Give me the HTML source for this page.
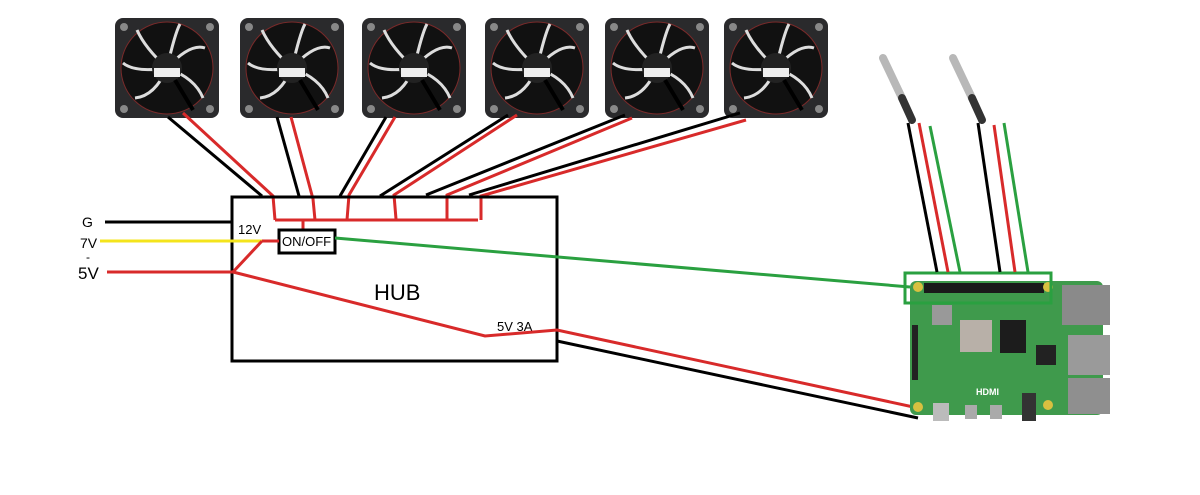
<!DOCTYPE html>
<html><head><meta charset="utf-8"><style>
html,body{margin:0;padding:0;background:#fff;}
svg{display:block;}
text{font-family:"Liberation Sans",sans-serif;}
</style></head><body>
<svg width="1200" height="495" viewBox="0 0 1200 495" xmlns="http://www.w3.org/2000/svg">
<defs>
<g id="fan">
  <rect x="0" y="0" width="104" height="100" rx="8" fill="#2a2a2c"/>
  <circle cx="9" cy="9" r="4" fill="#888"/><circle cx="95" cy="9" r="4" fill="#888"/>
  <circle cx="9" cy="91" r="4" fill="#888"/><circle cx="95" cy="91" r="4" fill="#888"/>
  <circle cx="52" cy="50" r="46" fill="#111" stroke="#7a2a2a" stroke-width="1"/>
  <g stroke="#ddd" stroke-width="3" fill="none">
    <path d="M52 50 Q30 30 22 12"/><path d="M52 50 Q75 25 90 30"/>
    <path d="M52 50 Q80 60 88 80"/><path d="M52 50 Q40 78 20 80"/>
    <path d="M52 50 Q20 55 8 45"/><path d="M52 50 Q60 15 65 6"/>
  </g>
  <circle cx="52" cy="50" r="15" fill="#222"/>
  <rect x="39" y="50" width="26" height="9" fill="#eee"/>
  <path d="M60 62 L78 92" stroke="#000" stroke-width="4"/>
</g>
</defs>

<use href="#fan" x="115" y="18"/>
<use href="#fan" x="240" y="18"/>
<use href="#fan" x="362" y="18"/>
<use href="#fan" x="485" y="18"/>
<use href="#fan" x="605" y="18"/>
<use href="#fan" x="724" y="18"/>

<!-- fan wires -->
<g stroke-width="3" fill="none">
<path d="M168 117 L262 196" stroke="#000"/>
<path d="M183 113 L273 196 L275 220" stroke="#d82a2a"/>
<path d="M277 117 L299 196" stroke="#000"/>
<path d="M291 117 L313 199 L315 220" stroke="#d82a2a"/>
<path d="M386 117 L340 196" stroke="#000"/>
<path d="M395 117 L349 195 L347 220" stroke="#d82a2a"/>
<path d="M508 115 L380 196" stroke="#000"/>
<path d="M517 115 L394 195 L396 219" stroke="#d82a2a"/>
<path d="M625 115 L426 195" stroke="#000"/>
<path d="M632 118 L447 195 L447 220" stroke="#d82a2a"/>
<path d="M740 113 L469 195" stroke="#000"/>
<path d="M746 120 L481 196 L481 220" stroke="#d82a2a"/>
<path d="M275 220 L478 220" stroke="#d82a2a"/>
<path d="M303 220 L303 230" stroke="#d82a2a"/>
</g>

<!-- hub -->
<rect x="232" y="197" width="325" height="164" fill="none" stroke="#000" stroke-width="3"/>
<text x="238" y="234" font-size="13">12V</text>
<rect x="279" y="230" width="56" height="23" fill="#fff" stroke="#000" stroke-width="3"/>
<text x="282" y="246" font-size="13">ON/OFF</text>
<text x="374" y="300" font-size="22">HUB</text>
<text x="497" y="331" font-size="13">5V 3A</text>

<!-- left inputs -->
<text x="82" y="227" font-size="14">G</text>
<text x="80" y="248" font-size="14">7V</text>
<text x="86" y="261" font-size="12">-</text>
<text x="78" y="279" font-size="17">5V</text>
<g stroke-width="3" fill="none">
<path d="M105 222 L232 222" stroke="#000"/>
<path d="M100 241 L262 241" stroke="#f4e41c"/>
<path d="M262 241 L279 241" stroke="#d82a2a"/>
<path d="M107 272 L233 272" stroke="#d82a2a"/>
<path d="M233 272 L262 241" stroke="#d82a2a"/>
<path d="M233 272 L485 336 L557 330 L918 408" stroke="#d82a2a"/>
<path d="M557 341 L918 418" stroke="#000"/>
<path d="M335 238 L910 287" stroke="#2aa040"/>
</g>

<!-- Pi board -->
<rect x="910" y="281" width="193" height="134" rx="6" fill="#3f9a4c"/>
<rect x="1062" y="285" width="48" height="40" fill="#8a8a8a"/>
<rect x="1068" y="335" width="42" height="40" fill="#9a9a9a"/>
<rect x="1068" y="378" width="42" height="36" fill="#8f8f8f"/>
<rect x="924" y="283" width="120" height="10" fill="#1a1a1a"/>
<circle cx="918" cy="287" r="5" fill="#d8c040"/><circle cx="1048" cy="287" r="5" fill="#d8c040"/>
<circle cx="918" cy="407" r="5" fill="#d8c040"/><circle cx="1048" cy="405" r="5" fill="#d8c040"/>
<rect x="960" y="320" width="32" height="32" fill="#b8b0a8"/>
<rect x="1000" y="320" width="26" height="33" fill="#1c1c1c"/>
<rect x="1036" y="345" width="20" height="20" fill="#222"/>
<rect x="932" y="305" width="20" height="20" fill="#999"/>
<rect x="912" y="325" width="6" height="55" fill="#222"/>
<rect x="933" y="403" width="16" height="18" fill="#bbb"/>
<rect x="965" y="405" width="12" height="14" fill="#aaa"/>
<rect x="990" y="405" width="12" height="14" fill="#aaa"/>
<rect x="1022" y="393" width="14" height="28" fill="#333"/>
<text x="976" y="395" font-size="9" fill="#fff" font-weight="bold">HDMI</text>
<rect x="905" y="273" width="146" height="30" fill="none" stroke="#2aa040" stroke-width="3"/>

<!-- sensors -->
<g stroke-linecap="round">
<path d="M883 58 L902 98" stroke="#b8b8b8" stroke-width="8"/>
<path d="M902 98 L912 120" stroke="#333" stroke-width="8"/>
<path d="M953 58 L972 98" stroke="#b8b8b8" stroke-width="8"/>
<path d="M972 98 L982 120" stroke="#333" stroke-width="8"/>
</g>
<g stroke-width="3" fill="none">
<path d="M908 123 L937 272" stroke="#000"/>
<path d="M919 123 L948 272" stroke="#d82a2a"/>
<path d="M930 126 L960 272" stroke="#2aa040"/>
<path d="M978 123 L1000 272" stroke="#000"/>
<path d="M994 125 L1015 272" stroke="#d82a2a"/>
<path d="M1004 123 L1028 272" stroke="#2aa040"/>
</g>
</svg>
</body></html>
